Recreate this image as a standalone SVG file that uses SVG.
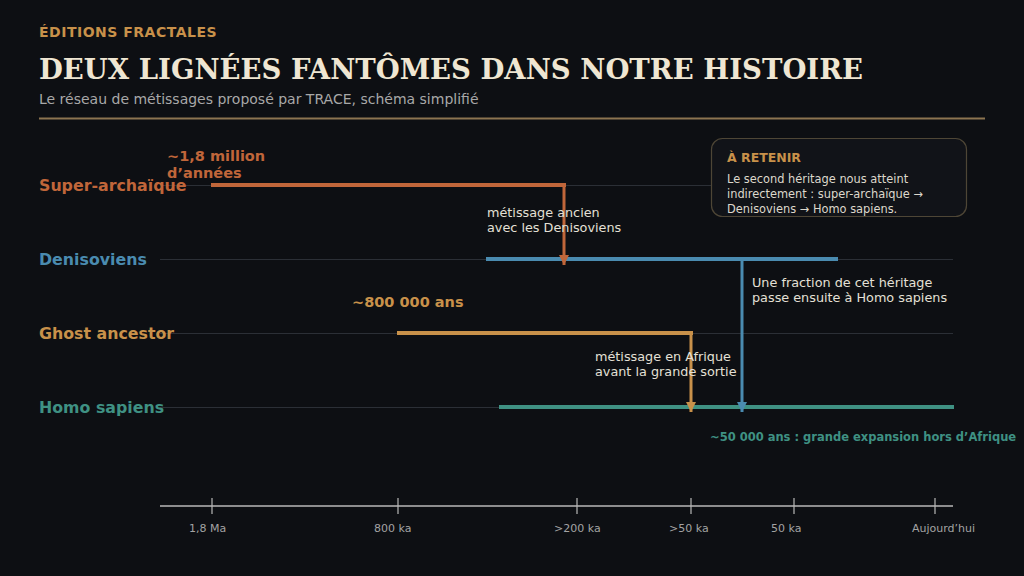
<svg xmlns="http://www.w3.org/2000/svg" width="1024" height="576" viewBox="0 0 1024 576">
<defs>
<style>
.sans{font-family:"DejaVu Sans","Liberation Sans",sans-serif}
.lane-label{font-family:"DejaVu Sans",sans-serif;font-weight:bold;font-size:15.8px}
.guide{stroke:#2b2f36;stroke-width:1}
.bar{stroke-width:4;fill:none}
.conn{stroke-width:3;fill:none}
.note{font-family:"DejaVu Sans",sans-serif;font-size:12.8px;fill:#e4e0d6}
.tick{stroke:#b8b8b8;stroke-width:1.2}
.axlbl{font-family:"DejaVu Sans",sans-serif;font-size:11px;fill:#a3a3a3}
</style>
<marker id="ah-orange" viewBox="0 0 10 10" refX="10" refY="5" markerWidth="10" markerHeight="10" markerUnits="userSpaceOnUse" orient="auto"><path d="M0,0 L10,5 L0,10 z" fill="#c0663a"/></marker>
<marker id="ah-gold" viewBox="0 0 10 10" refX="10" refY="5" markerWidth="10" markerHeight="10" markerUnits="userSpaceOnUse" orient="auto"><path d="M0,0 L10,5 L0,10 z" fill="#c8914a"/></marker>
<marker id="ah-blue" viewBox="0 0 10 10" refX="10" refY="5" markerWidth="10" markerHeight="10" markerUnits="userSpaceOnUse" orient="auto"><path d="M0,0 L10,5 L0,10 z" fill="#4a8bb0"/></marker>
</defs>
<rect x="0" y="0" width="1024" height="576" fill="#0d0f13"/>

<g id="header">
<text x="39" y="37" class="sans" font-size="14" font-weight="bold" letter-spacing="0.5" fill="#c8914a">ÉDITIONS FRACTALES</text>
<text x="39" y="79" font-family="DejaVu Serif,Liberation Serif,serif" font-size="27.5" font-weight="bold" fill="#efe6d2">DEUX LIGNÉES FANTÔMES DANS NOTRE HISTOIRE</text>
<text x="39" y="104" class="sans" font-size="14" fill="#a8a8a8">Le réseau de métissages proposé par TRACE, schéma simplifié</text>
<line x1="39" y1="118.5" x2="985" y2="118.5" stroke="#8c7450" stroke-width="2"/>
</g>

<g id="lane-super-archaique">
<line class="guide" x1="160" y1="185.5" x2="953" y2="185.5"/>
<line class="bar" x1="211" y1="185" x2="566" y2="185" stroke="#c0663a"/>
<text x="39" y="191" class="lane-label" fill="#c0663a">Super-archaïque</text>
<text x="167" y="161" class="sans" font-size="14.5" font-weight="bold" fill="#c0663a">~1,8 million</text>
<text x="167" y="178" class="sans" font-size="14.5" font-weight="bold" fill="#c0663a">d’années</text>
</g>

<g id="lane-denisoviens">
<line class="guide" x1="160" y1="259.5" x2="953" y2="259.5"/>
<line class="bar" x1="486" y1="259" x2="838" y2="259" stroke="#4a8bb0"/>
<text x="39" y="265" class="lane-label" fill="#4a8bb0">Denisoviens</text>
</g>

<g id="lane-ghost">
<line class="guide" x1="160" y1="333.5" x2="953" y2="333.5"/>
<line class="bar" x1="397" y1="333" x2="693" y2="333" stroke="#c8914a"/>
<text x="39" y="339" class="lane-label" fill="#c8914a">Ghost ancestor</text>
<text x="352" y="307" class="sans" font-size="14.5" font-weight="bold" fill="#c8914a">~800 000 ans</text>
</g>

<g id="lane-homo-sapiens">
<line class="guide" x1="160" y1="407.5" x2="953" y2="407.5"/>
<line class="bar" x1="499" y1="407" x2="954" y2="407" stroke="#3f9183"/>
<text x="39" y="413" class="lane-label" fill="#3f9183">Homo sapiens</text>
<text x="710" y="441" class="sans" font-size="11.5" font-weight="bold" fill="#3f9183">~50 000 ans : grande expansion hors d’Afrique</text>
</g>

<g id="note-retenir">
<rect x="711.5" y="138.5" width="255" height="78" rx="11" fill="#111318" stroke="#4e4636" stroke-width="1.2"/>
<text x="727" y="162" class="sans" font-size="12.5" font-weight="bold" fill="#c8914a">À RETENIR</text>
<text class="sans" font-size="11.4" fill="#ddd8cc"><tspan x="727" y="183">Le second héritage nous atteint</tspan><tspan x="727" y="198">indirectement : super-archaïque →</tspan><tspan x="727" y="213">Denisoviens → Homo sapiens.</tspan></text>
</g>

<g id="connectors">
<line class="conn" x1="564" y1="185" x2="564" y2="265" stroke="#c0663a" marker-end="url(#ah-orange)"/>
<line class="conn" x1="691" y1="333" x2="691" y2="412" stroke="#c8914a" marker-end="url(#ah-gold)"/>
<line class="conn" x1="742" y1="259" x2="742" y2="412" stroke="#4a8bb0" marker-end="url(#ah-blue)"/>
</g>

<g id="labels">
<text class="note"><tspan x="487" y="217">métissage ancien</tspan><tspan x="487" y="232">avec les Denisoviens</tspan></text>
<text class="note"><tspan x="752" y="287">Une fraction de cet héritage</tspan><tspan x="752" y="302">passe ensuite à Homo sapiens</tspan></text>
<text class="note"><tspan x="595" y="361">métissage en Afrique</tspan><tspan x="595" y="376">avant la grande sortie</tspan></text>
</g>

<g id="axis">
<line x1="160" y1="506" x2="953" y2="506" stroke="#b8b8b8" stroke-width="1.5"/>
<line class="tick" x1="212" y1="498" x2="212" y2="514"/>
<line class="tick" x1="398" y1="498" x2="398" y2="514"/>
<line class="tick" x1="577" y1="498" x2="577" y2="514"/>
<line class="tick" x1="691" y1="498" x2="691" y2="514"/>
<line class="tick" x1="794" y1="498" x2="794" y2="514"/>
<line class="tick" x1="935" y1="498" x2="935" y2="514"/>
<text class="axlbl" x="189" y="532">1,8 Ma</text>
<text class="axlbl" x="374" y="532">800 ka</text>
<text class="axlbl" x="554" y="532">&gt;200 ka</text>
<text class="axlbl" x="669" y="532">&gt;50 ka</text>
<text class="axlbl" x="771" y="532">50 ka</text>
<text class="axlbl" x="912" y="532">Aujourd’hui</text>
</g>
</svg>
